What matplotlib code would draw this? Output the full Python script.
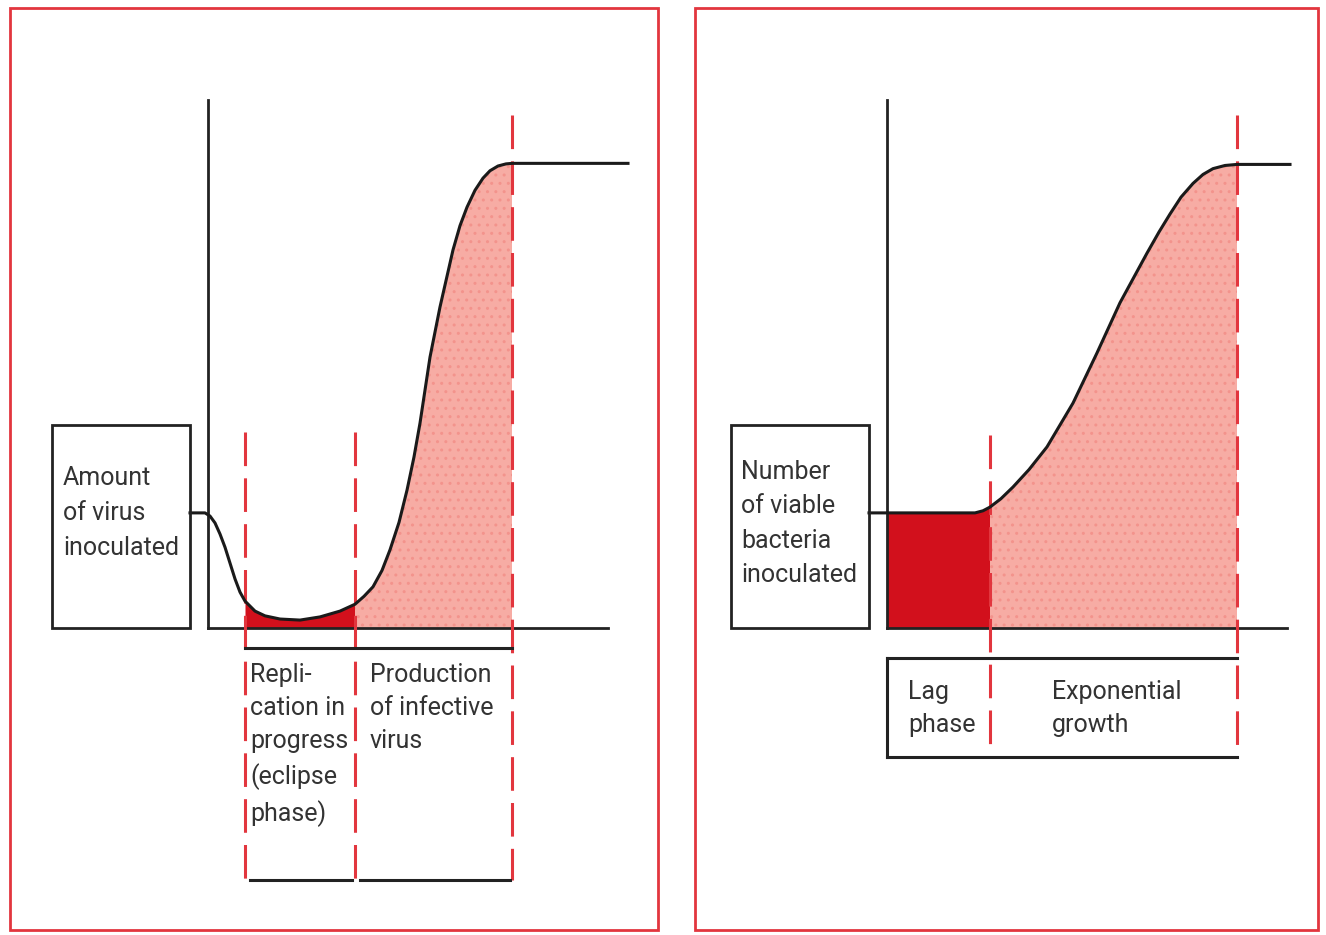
import matplotlib
matplotlib.use("Agg")
import matplotlib.pyplot as plt
from matplotlib import font_manager
from matplotlib.patches import Rectangle
from matplotlib.lines import Line2D
import numpy as np

W, H = 1326, 935

# virus growth curve (time units 0-100, amount units 0-100)
virus_t = [-4.5, -0.75, 0.5, 1.75, 3, 4.25, 5.5, 6.75, 8, 9.25, 11.75, 14.25, 18, 23, 28,
           33, 36.75, 39, 41.25, 43.5, 45.5, 47.75, 49.75, 51.5, 53, 55.5, 58, 61.25,
           63, 64.75, 66.75, 68.75, 70.5, 72.5, 74.5, 76, 105]
virus_n = [21.8, 21.8, 21.2, 19.9, 17.8, 15.3, 12.3, 9.3, 6.8, 5.1, 3.2, 2.3, 1.7, 1.5, 2.1,
           3.2, 4.5, 6.0, 7.8, 10.9, 14.8, 20.0, 26.1, 32.4, 38.8, 51.3, 60.8, 71.6,
           76.2, 79.7, 82.9, 85.2, 86.6, 87.5, 87.9, 88.0, 88.0]
virus_phases = [9.25, 36.75, 76]

# bacterial growth curve
bact_t = [-4.5, 0, 10, 20, 22, 24, 25.75, 28.5, 31.5, 35.5, 40, 46.5, 52.5, 58.25, 65,
          68, 70.75, 73.5, 76.5, 79, 81.5, 84.5, 87.5, 100.75]
bact_n = [21.8, 21.8, 21.8, 21.8, 21.8, 22.2, 22.9, 24.5, 26.7, 30.0, 34.3, 42.6, 52.1,
          61.6, 71.0, 75.0, 78.4, 81.6, 84.2, 85.9, 87.0, 87.6, 87.8, 87.8]
bact_phases = [25.75, 87.5]

red_line = "#e2363e"
dark_red = "#d2101c"
pink = "#f7aca4"


def pick_font(names):
    for n in names:
        try:
            font_manager.findfont(n, fallback_to_default=False)
            return n
        except ValueError:
            continue
    return "DejaVu Sans"


font = pick_font(["Liberation Sans Narrow", "Roboto", "Liberation Sans"])
plt.rcParams["font.family"] = [font, "DejaVu Sans"]
fs = 20 if font == "Liberation Sans Narrow" else 18

fig = plt.figure(figsize=(W / 100, H / 100), dpi=100)


def fx(px):
    return px / W


def fy(py):
    return 1 - py / H


def fig_line(xs, ys, **kw):
    fig.add_artist(Line2D([fx(x) for x in xs], [fy(y) for y in ys], **kw))


def fig_rect(x0, y0, x1, y1, **kw):
    fig.add_artist(Rectangle((fx(x0), fy(y1)), fx(x1) - fx(x0), fy(y0) - fy(y1),
                             transform=fig.transFigure, **kw))


def fig_text(px, py, s, ls=1.48):
    fig.text(fx(px), fy(py), s, fontsize=fs, color="#333333", ha="left", va="top",
             linespacing=ls)


# panel frames
fig_rect(10, 8, 658, 930, fill=False, edgecolor=red_line, linewidth=2)
fig_rect(695, 8, 1318, 930, fill=False, edgecolor=red_line, linewidth=2)


def make_axes(x0px):
    ax = fig.add_axes([fx(x0px), fy(628), 400 / W, 528 / H])
    ax.set_xlim(0, 100)
    ax.set_ylim(0, 100)
    ax.set_facecolor("none")
    for s in ["top", "right"]:
        ax.spines[s].set_visible(False)
    for s in ["left", "bottom"]:
        ax.spines[s].set_linewidth(2)
        ax.spines[s].set_color("#222222")
    ax.set_xticks([])
    ax.set_yticks([])
    return ax


dash = dict(color=red_line, linewidth=2.2, linestyle=(0, (11, 4)), clip_on=False, zorder=4)

# ---- left: virus ----
ax1 = make_axes(208)
t = np.array(virus_t)
n = np.array(virus_n)
a, b, c = virus_phases
ax1.fill_between(t, 0, n, where=(t >= a) & (t <= b), color=dark_red, linewidth=0, zorder=1)
ax1.fill_between(t, 0, n, where=(t >= b) & (t <= c), facecolor=pink, edgecolor="#f3938c",
                 hatch="..", linewidth=0, zorder=1)
ax1.plot(t, n, color="#1a1a1a", linewidth=2.2, clip_on=False, zorder=5,
         solid_joinstyle="round")
ax1.plot([a, a], [37.1, -47.7], **dash)
ax1.plot([b, b], [37.1, -47.7], **dash)
ax1.plot([c, c], [97.2, -47.7], **dash)

fig_rect(52, 425, 190, 628, fill=False, edgecolor="#222222", linewidth=2)
fig_text(63, 466, "Amount\nof virus\ninoculated", ls=1.58)
fig_line([245, 512], [648, 648], color="#222222", linewidth=2.2)
fig_line([250, 352], [880, 880], color="#222222", linewidth=2.2)
fig_line([360, 510], [880, 880], color="#222222", linewidth=2.2)
fig_text(250, 663, "Repli-\ncation in\nprogress\n(eclipse\nphase)")
fig_text(370, 663, "Production\nof infective\nvirus")

# ---- right: bacteria ----
ax2 = make_axes(887)
t = np.array(bact_t)
n = np.array(bact_n)
a, b = bact_phases
ax2.fill_between(t, 0, n, where=(t >= 0) & (t <= a), color=dark_red, linewidth=0, zorder=1)
ax2.fill_between(t, 0, n, where=(t >= a) & (t <= b), facecolor=pink, edgecolor="#f3938c",
                 hatch="..", linewidth=0, zorder=1)
ax2.plot(t, n, color="#1a1a1a", linewidth=2.2, clip_on=False, zorder=5,
         solid_joinstyle="round")
ax2.plot([a, a], [36.6, -24.2], **dash)
ax2.plot([b, b], [97.2, -24.2], **dash)

fig_rect(731, 425, 869, 628, fill=False, edgecolor="#222222", linewidth=2)
fig_text(741, 460, "Number\nof viable\nbacteria\ninoculated", ls=1.55)
fig_line([887, 1237], [658, 658], color="#222222", linewidth=2.2)
fig_line([887, 1237], [757, 757], color="#222222", linewidth=2.2)
fig_line([887, 887], [658, 757], color="#222222", linewidth=2.2)
fig_text(908, 680, "Lag\nphase", ls=1.45)
fig_text(1052, 680, "Exponential\ngrowth", ls=1.45)

fig.savefig("out.png", dpi=100)
